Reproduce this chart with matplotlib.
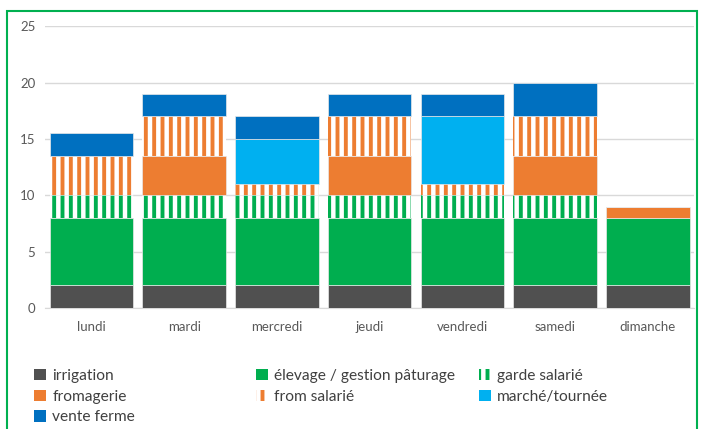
import matplotlib
matplotlib.use('Agg')
import matplotlib.pyplot as plt
import numpy as np
from matplotlib.patches import Rectangle, Patch

days = ['lundi', 'mardi', 'mercredi', 'jeudi', 'vendredi', 'samedi', 'dimanche']

irrigation = [2, 2, 2, 2, 2, 2, 2]
elevage = [6, 6, 6, 6, 6, 6, 6]
garde_salarie = [2, 2, 2, 2, 2, 2, 0]
fromagerie = [0, 3.5, 0, 3.5, 0, 3.5, 1]
from_salarie = [3.5, 3.5, 1, 3.5, 1, 3.5, 0]
marche_tournee = [0, 0, 4, 0, 6, 0, 0]
vente_ferme = [2, 2, 2, 2, 2, 3, 0]

# (label, values, colour, hatched?)
SERIES = [('irrigation', irrigation, '#505050', False),
          ('élevage / gestion pâturage', elevage, '#00AE4F', False),
          ('garde salarié', garde_salarie, '#00AE4F', True),
          ('fromagerie', fromagerie, '#ED7D31', False),
          ('from salarié', from_salarie, '#ED7D31', True),
          ('marché/tournée', marche_tournee, '#00B0F0', False),
          ('vente ferme', vente_ferme, '#0070C0', False)]

plt.rcParams['font.family'] = ['Lato', 'DejaVu Sans']
plt.rcParams['hatch.linewidth'] = 2.8

fig = plt.figure(figsize=(7.04, 4.29), dpi=100)
ax = fig.add_axes([0.064, 0.282, 0.922, 0.657])

x = np.arange(len(days))
bottom = np.zeros(len(days))
handles = {}
for label, values, color, hatched in SERIES:
    values = np.array(values, dtype=float)
    if hatched:
        ax.bar(x, values, 0.9, bottom=bottom, facecolor='white', edgecolor=color,
               hatch='||', linewidth=0, zorder=3)
        handles[label] = Patch(facecolor='white', edgecolor=color, hatch='||', linewidth=0)
    else:
        ax.bar(x, values, 0.9, bottom=bottom, color=color, edgecolor='#e8e8e8',
               linewidth=0.5, zorder=3)
        handles[label] = Patch(facecolor=color, edgecolor='none')
    bottom += values

ax.set_xlim(-0.5, len(days) - 0.5)
ax.set_ylim(0, 25)
ax.set_yticks(np.arange(0, 26, 5))
ax.set_xticks(x)
ax.set_xticklabels(days)
ax.tick_params(axis='both', length=0, labelsize=9.5, colors='#595959')
ax.tick_params(axis='x', pad=9)
ax.tick_params(axis='y', pad=7)
ax.grid(axis='y', color='#d9d9d9', linewidth=1, zorder=0)
for side in ['top', 'right', 'left']:
    ax.spines[side].set_visible(False)
ax.spines['bottom'].set_color('#d9d9d9')

# legend: three fixed-width columns, one legend per column
columns = [(0.049, ['irrigation', 'fromagerie', 'vente ferme']),
           (0.364, ['élevage / gestion pâturage', 'from salarié']),
           (0.681, ['garde salarié', 'marché/tournée'])]
for xpos, labels in columns:
    leg = fig.legend([handles[k] for k in labels], labels,
                     loc='upper left', bbox_to_anchor=(xpos, 0.14),
                     frameon=False, fontsize=11.2, handlelength=0.75, handleheight=0.75,
                     handletextpad=0.4, labelspacing=0.42,
                     borderaxespad=0, borderpad=0)
    for t in leg.get_texts():
        t.set_color('#404040')

# green frame around the chart
fig.patches.append(Rectangle((0.01, -0.05), 0.98, 1.025, transform=fig.transFigure,
                             fill=False, edgecolor='#00B050', linewidth=1.5))

fig.savefig('out.png', dpi=100)
